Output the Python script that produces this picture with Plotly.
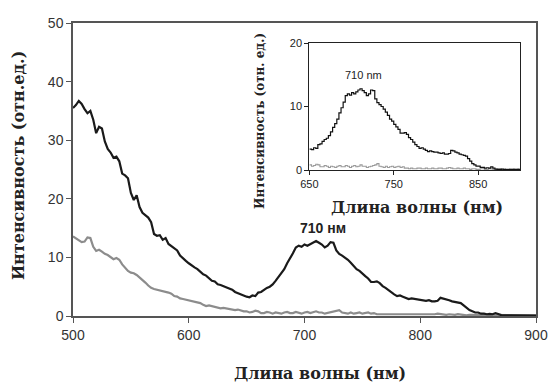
import plotly.graph_objects as go

wavelength = [500 + 2.5 * i for i in range(161)]

black_signal = [
    35.5, 36.0, 36.7, 36.2, 35.3, 34.6, 35.0, 33.5, 31.2, 32.3, 32.0, 29.8, 28.5, 27.9, 27.0, 27.2, 26.4, 24.3, 24.0, 23.5,
    21.0, 19.8, 20.6, 18.6, 17.6, 17.2, 16.8, 16.0, 14.0, 13.7, 13.8, 13.0, 13.3, 12.3, 11.9, 11.6, 11.2, 10.3, 9.8, 9.4,
    9.0, 8.6, 8.3, 8.0, 7.6, 7.1, 6.9, 6.5, 6.0, 5.9, 5.4, 5.3, 5.1, 4.8, 4.6, 4.5, 4.1, 3.9, 3.6, 3.5,
    3.3, 3.2, 3.5, 3.4, 4.0, 4.1, 4.5, 4.8, 5.0, 5.4, 6.0, 6.7, 7.3, 8.0, 9.0, 9.8, 10.7, 11.7, 12.0, 11.8,
    12.2, 12.0, 12.3, 12.6, 12.8, 12.5, 12.2, 11.7, 12.0, 12.6, 12.5, 11.2, 10.6, 10.3, 10.0, 9.6, 9.1, 8.6, 8.0, 7.7,
    7.2, 6.8, 6.4, 5.8, 5.8, 5.9, 5.6, 5.1, 4.8, 4.4, 4.0, 3.7, 3.4, 3.5, 3.3, 3.1, 2.9, 3.0, 2.9, 2.8,
    2.8, 2.7, 2.6, 2.7, 2.5, 2.5, 2.6, 3.1, 3.0, 2.8, 2.7, 2.5, 2.4, 2.3, 2.2, 1.8, 1.4, 1.0, 0.8, 0.6,
    0.6, 0.4, 0.4, 0.3, 0.35, 0.3, 0.5, 0.3, 0.15, 0.1, 0.1, 0.15, 0.1, 0.05, 0.05, 0.1, 0.1, 0.05, 0.05, 0.1,
    0.05]

gray_signal = [
    13.6, 13.3, 13.0, 12.6, 12.7, 13.4, 13.3, 11.8, 11.1, 11.3, 11.0, 10.6, 10.4, 10.0, 9.7, 9.9, 9.6, 8.8, 8.2, 7.7,
    7.4, 7.3, 7.0, 6.6, 6.2, 5.7, 5.2, 4.8, 4.6, 4.5, 4.4, 4.3, 4.2, 4.0, 3.8, 3.4, 3.3, 3.0, 2.9, 2.8,
    2.6, 2.6, 2.4, 2.3, 2.2, 1.9, 1.7, 1.8, 1.7, 1.5, 1.5, 1.3, 1.4, 1.3, 1.2, 1.1, 1.0, 1.1, 0.9, 0.8,
    0.8, 0.6, 0.7, 0.9, 0.8, 0.5, 0.5, 0.7, 0.6, 0.4, 0.6, 0.5, 0.4, 0.6, 0.7, 0.5, 0.5, 0.7, 0.6, 0.4,
    0.6, 0.7, 0.5, 0.6, 0.8, 0.6, 0.6, 0.4, 0.5, 0.6, 0.7, 0.8, 1.0, 0.6, 0.5, 0.4, 0.6, 0.4, 0.5, 0.6,
    0.4, 0.5, 0.6, 0.4, 0.5, 0.3, 0.3, 0.2, 0.3, 0.2, 0.2, 0.3, 0.3, 0.2, 0.2, 0.3, 0.2, 0.2, 0.3, 0.2,
    0.2, 0.3, 0.3, 0.2, 0.2, 0.3, 0.4, 0.3, 0.2, 0.2, 0.3, 0.2, 0.2, 0.3, 0.2, 0.2, 0.1, 0.2, 0.2, 0.1,
    0.1, 0.2, 0.2, 0.1, 0.1, 0.2, 0.15, 0.1, 0.1, 0.2, 0.2, 0.1, 0.1, 0.15, 0.15, 0.1, 0.1, 0.2, 0.2, 0.1,
    0.1]

assert len(wavelength) == len(black_signal) == len(gray_signal), (len(black_signal), len(gray_signal))

inset_start = 650
inset_wl = [w for w in wavelength if w >= inset_start]
inset_black = [v for w, v in zip(wavelength, black_signal) if w >= inset_start]
inset_gray = [v for w, v in zip(wavelength, gray_signal) if w >= inset_start]

main_ticks = [500, 600, 700, 800, 900]
inset_ticks = [650, 750, 850]

fig = go.Figure()
fig.add_trace(go.Scatter(x=wavelength, y=gray_signal, mode="lines",
                         line=dict(color="#8c8c8c", width=2.2), xaxis="x", yaxis="y"))
fig.add_trace(go.Scatter(x=wavelength, y=black_signal, mode="lines",
                         line=dict(color="#1a1a1a", width=2.2), xaxis="x", yaxis="y"))
fig.add_trace(go.Scatter(x=inset_wl, y=inset_gray, mode="lines", line_shape="hv",
                         line=dict(color="#9a9a9a", width=1.1), xaxis="x2", yaxis="y2"))
fig.add_trace(go.Scatter(x=inset_wl, y=inset_black, mode="lines", line_shape="hv",
                         line=dict(color="#111111", width=1.2), xaxis="x2", yaxis="y2"))

tick_font = dict(family="Liberation Sans", size=14, color="#333")
inset_tick_font = dict(family="Liberation Sans", size=11, color="#222")
title_font = dict(family="DejaVu Serif", size=16, color="#222")

fig.update_layout(
    width=560, height=383,
    margin=dict(l=73, r=17, t=23, b=67),
    paper_bgcolor="white", plot_bgcolor="white",
    showlegend=False,
    xaxis=dict(domain=[0, 1], range=[500, 900], tickvals=main_ticks, ticks="outside", ticklen=5,
               tickcolor="#555", showline=True, linecolor="#555", linewidth=1.5, mirror=True,
               showgrid=False, zeroline=False, tickfont=tick_font),
    yaxis=dict(domain=[0, 1], range=[0, 50], dtick=10, ticks="outside", ticklen=5,
               tickcolor="#555", showline=True, linecolor="#555", linewidth=1.5, mirror=True,
               showgrid=False, zeroline=False, tickfont=tick_font),
    xaxis2=dict(domain=[0.5106, 0.966], anchor="y2", range=[650, 900], tickvals=inset_ticks,
                ticks="outside", ticklen=4, tickcolor="#222", showline=True, linecolor="#222",
                linewidth=1.2, mirror=True, showgrid=False, zeroline=False, tickfont=inset_tick_font),
    yaxis2=dict(domain=[0.4983, 0.9317], anchor="x2", range=[0, 20], dtick=10,
                ticks="outside", ticklen=4, tickcolor="#222", showline=True, linecolor="#222",
                linewidth=1.2, mirror=True, showgrid=False, zeroline=False, tickfont=inset_tick_font),
)

common = dict(showarrow=False, xanchor="center", yanchor="middle")
annots = [
    dict(text="<b>Интенсивность (отн.ед.)</b>", x=-0.119, y=0.515, xref="paper", yref="paper",
         textangle=-90, font=title_font, **common),
    dict(text="<b>Длина волны (нм)</b>", x=0.534, y=-0.195, xref="paper", yref="paper",
         font=title_font, **common),
    dict(text="<b>Интенсивность (отн. ед.)</b>", x=0.404, y=0.666, xref="paper", yref="paper",
         textangle=-90, font=dict(family="DejaVu Serif", size=12, color="#222"), **common),
    dict(text="<b>Длина волны (нм)</b>", x=0.743, y=0.369, xref="paper", yref="paper",
         font=title_font, **common),
    dict(text="<b>710 нм</b>", x=716, y=15.1, xref="x", yref="y",
         font=dict(family="Liberation Sans", size=14, color="#222"), **common),
    dict(text="710 nm", x=714, y=15.0, xref="x2", yref="y2",
         font=dict(family="Liberation Sans", size=11, color="#222"), **common),
]
fig.update_layout(annotations=annots)

fig.write_html("out.html")
